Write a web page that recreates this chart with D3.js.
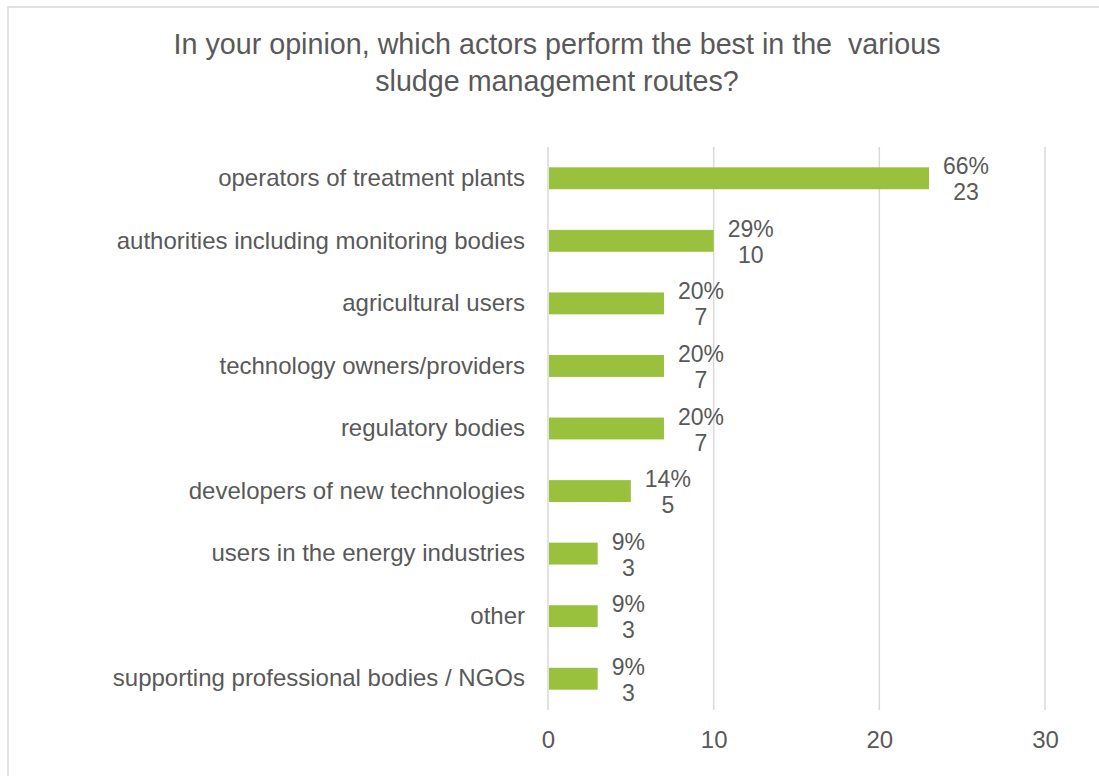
<!DOCTYPE html>
<html>
<head>
<meta charset="utf-8">
<script src="https://cdn.jsdelivr.net/npm/d3@7/dist/d3.min.js"></script>
<style>
  html, body { margin: 0; padding: 0; background: #fff; }
  svg { display: block; }
  text { font-family: "Liberation Sans", Arial, sans-serif; fill: #595959; }
</style>
</head>
<body>
<svg id="chart" width="1099" height="776"></svg>
<script>
// Survey answers: actors performing best in sludge management routes
const categories = [
  "operators of treatment plants",
  "authorities including monitoring bodies",
  "agricultural users",
  "technology owners/providers",
  "regulatory bodies",
  "developers of new technologies",
  "users in the energy industries",
  "other",
  "supporting professional bodies / NGOs"
];
const counts = [23, 10, 7, 7, 7, 5, 3, 3, 3];
const percentLabels = ["66%", "29%", "20%", "20%", "20%", "14%", "9%", "9%", "9%"];
const xTicks = [0, 10, 20, 30];
const titleLines = [
  "In your opinion, which actors perform the best in the\u00a0 various",
  "sludge management routes?"
];

const svg = d3.select("#chart");
const plot = { left: 548, right: 1045, top: 147, bottom: 710 };

// chart frame
svg.append("rect")
  .attr("x", 8).attr("y", 7)
  .attr("width", 1120).attr("height", 800)
  .attr("fill", "none")
  .attr("stroke", "#d9d9d9")
  .attr("stroke-width", 1.5);

// title
svg.append("g").selectAll("text")
  .data(titleLines)
  .join("text")
  .attr("x", 557)
  .attr("y", (d, i) => 54 + i * 37)
  .attr("text-anchor", "middle")
  .style("font-size", "28.7px")
  .text(d => d);

const x = d3.scaleLinear().domain([0, 30]).range([plot.left, plot.right]);
const y = d3.scaleBand()
  .domain(categories)
  .range([plot.top, plot.bottom])
  .paddingInner(0.65)
  .paddingOuter(0.325);

// vertical gridlines
svg.append("g").selectAll("line")
  .data(xTicks)
  .join("line")
  .attr("x1", d => x(d)).attr("x2", d => x(d))
  .attr("y1", plot.top).attr("y2", plot.bottom)
  .attr("stroke", "#d9d9d9")
  .attr("stroke-width", 1.5);

// x axis labels
const xAxis = svg.append("g")
  .attr("transform", `translate(0,${plot.bottom})`)
  .call(d3.axisBottom(x).tickValues(xTicks).tickSize(0).tickPadding(21).tickFormat(d3.format("d")));
xAxis.select(".domain").remove();
xAxis.selectAll("text").style("font-size", "24px").attr("fill", "#595959");

// category labels
const yAxis = svg.append("g")
  .attr("transform", `translate(${plot.left},0)`)
  .call(d3.axisLeft(y).tickSize(0).tickPadding(23));
yAxis.select(".domain").remove();
yAxis.selectAll("text").style("font-size", "24px").attr("fill", "#595959");

const rows = categories.map((c, i) => ({ c, v: counts[i], p: percentLabels[i] }));

// bars
svg.append("g").selectAll("rect")
  .data(rows)
  .join("rect")
  .attr("x", x(0) + 1)
  .attr("y", d => y(d.c))
  .attr("width", d => x(d.v) - x(0) - 1)
  .attr("height", y.bandwidth())
  .attr("fill", "#99c13d");

// value labels: percentage over count, centred as a block right of each bar
const labels = svg.append("g").selectAll("g")
  .data(rows)
  .join("g");

labels.each(function(d) {
  const g = d3.select(this);
  const cy = y(d.c) + y.bandwidth() / 2;
  const t1 = g.append("text").style("font-size", "23px").attr("text-anchor", "middle").text(d.p);
  const t2 = g.append("text").style("font-size", "23px").attr("text-anchor", "middle").text(d.v);
  const w = Math.max(t1.node().getComputedTextLength(), t2.node().getComputedTextLength());
  const cx = x(d.v) + 14 + w / 2;
  t1.attr("x", cx).attr("y", cy - 4);
  t2.attr("x", cx).attr("y", cy + 22);
});
</script>
</body>
</html>
